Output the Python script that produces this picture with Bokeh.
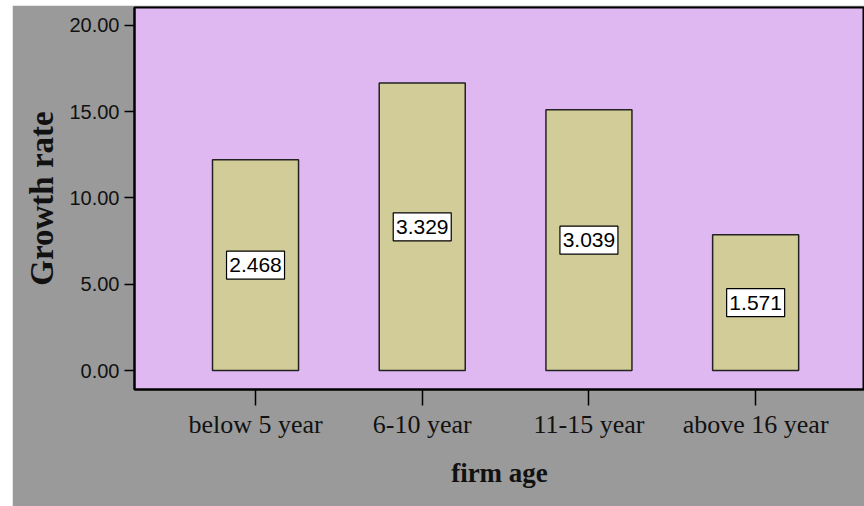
from bokeh.plotting import figure
from bokeh.models import Range1d, FixedTicker, NumeralTickFormatter, ColumnDataSource, Spacer
from bokeh.layouts import column, row
from bokeh.core.properties import value
from bokeh.embed import file_html
from bokeh.resources import INLINE

# data
categories = ["below 5 year", "6-10 year", "11-15 year", "above 16 year"]
growth_rate = [12.21, 16.66, 15.11, 7.87]
box_labels = ["2.468", "3.329", "3.039", "1.571"]
y_ticks = [0, 5, 10, 15, 20]

xs = list(range(len(categories)))
src = ColumnDataSource(dict(
    x=xs,
    top=growth_rate,
    mid=[v / 2 for v in growth_rate],
    lab=box_labels,
))

GREY = "#9a9a9a"
PURPLE = "#dfb8f2"
BAR = "#d2cd98"

p = figure(width=852, height=501,
           x_range=Range1d(-0.726, 3.653), y_range=Range1d(-1.10, 21.04),
           output_backend="svg", toolbar_location=None,
           min_border_left=122, min_border_right=0,
           min_border_top=2, min_border_bottom=117)
p.background_fill_color = PURPLE
p.border_fill_color = GREY
p.outline_line_color = "black"
p.outline_line_width = 2
p.xgrid.visible = False
p.ygrid.visible = False

p.vbar(x="x", top="top", bottom=0, width=0.516, source=src,
       fill_color=BAR, line_color="#222222", line_width=1.5)

p.rect(x="x", y="mid", width=58, height=28, width_units="screen", height_units="screen",
       source=src, fill_color="white", line_color="black", line_width=1.2)
p.text(x="x", y="mid", text="lab", source=src, text_align="center", text_baseline="middle",
       text_font=value("Liberation Sans"), text_font_size="21px", text_color="black")

# y axis
ya = p.yaxis[0]
ya.ticker = FixedTicker(ticks=y_ticks)
ya.formatter = NumeralTickFormatter(format="0.00")
ya.minor_tick_line_color = None
ya.major_tick_in = 0
ya.major_tick_out = 10
ya.major_tick_line_width = 1.5
ya.axis_line_width = 2
ya.major_label_standoff = 5
ya.major_label_text_font = "Liberation Sans"
ya.major_label_text_font_size = "20px"
ya.major_label_text_color = "#111111"
ya.axis_label = "Growth rate"
ya.axis_label_text_font = "Liberation Serif"
ya.axis_label_text_font_style = "bold"
ya.axis_label_text_font_size = "33px"
ya.axis_label_text_color = "#111111"
ya.axis_label_standoff = 6

# x axis
xa = p.xaxis[0]
xa.ticker = FixedTicker(ticks=xs)
xa.major_label_overrides = {i: c for i, c in enumerate(categories)}
xa.minor_tick_line_color = None
xa.major_tick_in = 0
xa.major_tick_out = 16
xa.major_tick_line_width = 1.5
xa.axis_line_width = 2
xa.major_label_standoff = 4
xa.major_label_text_font = "Liberation Serif"
xa.major_label_text_font_size = "26px"
xa.major_label_text_color = "#111111"
xa.axis_label = "firm age"
xa.axis_label_text_font = "Liberation Serif"
xa.axis_label_text_font_style = "bold"
xa.axis_label_text_font_size = "27px"
xa.axis_label_text_color = "#111111"
xa.axis_label_standoff = 16

layout = column(Spacer(width=864, height=5), row(Spacer(width=12, height=501), p))
open("out.html", "w").write(file_html(layout, INLINE))
